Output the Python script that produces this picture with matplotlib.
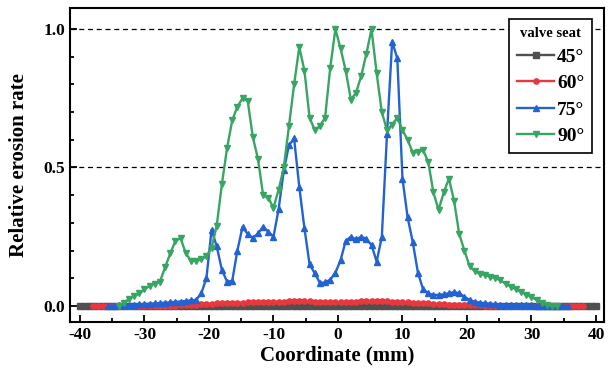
import matplotlib
matplotlib.use("Agg")
import matplotlib.pyplot as plt
import numpy as np

plt.rcParams['font.family'] = ['Liberation Serif', 'DejaVu Serif']
plt.rcParams['font.weight'] = 'bold'
plt.rcParams['axes.unicode_minus'] = False

# relative erosion rate along the seat for each valve seat angle
labels = ['45°', '60°', '75°', '90°']
colors = ['#505050', '#e8383d', '#2262d2', '#38a562']
markers = ['s', 'o', '^', 'v']
x_ranges = [(-40, 40), (-38, 38), (-35.6, 35.6), (-34, 34)]

rate_45 = [0.0] * 101

rate_60 = [0, 0, 0, 0, 0, 0, 0, 0, 0, 0, 0, 0, 0, 0, 0, 0,
           0.001, 0.002, 0.003, 0.004, 0.005, 0.006, 0.007, 0.008, 0.009, 0.010,
           0.011, 0.011, 0.012, 0.012, 0.013, 0.013, 0.014, 0.014, 0.015, 0.015,
           0.016, 0.016, 0.017, 0.017, 0.018, 0.018, 0.017, 0.016, 0.015, 0.014,
           0.013, 0.013, 0.014, 0.015, 0.015, 0.016, 0.017, 0.018, 0.019, 0.019,
           0.018, 0.017, 0.016, 0.015, 0.014, 0.013, 0.012, 0.011, 0.010, 0.009,
           0.008, 0.007, 0.006, 0.005, 0.005, 0.004, 0.003, 0.003, 0.002, 0.002,
           0.001, 0.001, 0, 0, 0, 0, 0, 0, 0, 0, 0, 0, 0, 0, 0, 0, 0, 0, 0, 0]

rate_75 = [0.0, 0.001, 0.002, 0.003, 0.004, 0.005, 0.006, 0.007, 0.008, 0.009,
           0.010, 0.012, 0.013, 0.015, 0.016, 0.018, 0.020, 0.022,
           0.045, 0.10, 0.275, 0.215, 0.13, 0.088, 0.09, 0.20, 0.285, 0.26,
           0.245, 0.262, 0.286, 0.268, 0.25, 0.35, 0.49, 0.58, 0.605, 0.43,
           0.28, 0.15, 0.118, 0.083, 0.085, 0.095, 0.12, 0.165, 0.235, 0.25,
           0.24, 0.25, 0.242, 0.22, 0.16, 0.25, 0.62, 0.955, 0.894, 0.46,
           0.32, 0.23, 0.12, 0.06, 0.045, 0.04, 0.04, 0.042, 0.046, 0.05,
           0.046, 0.033, 0.022, 0.015, 0.012, 0.010, 0.008, 0.006, 0.005, 0.004,
           0.003, 0.003, 0.002, 0.002, 0.002, 0.001, 0.001, 0.001, 0.0, 0.0, 0.0, 0.0]

rate_90 = [0.0, 0.01, 0.025, 0.035, 0.045, 0.06, 0.073, 0.08, 0.088, 0.14,
           0.19, 0.235, 0.245, 0.19, 0.163, 0.162, 0.168, 0.18, 0.21, 0.29,
           0.44, 0.57, 0.67, 0.72, 0.75, 0.74, 0.61, 0.53, 0.40, 0.39,
           0.355, 0.42, 0.50, 0.65, 0.80, 0.935, 0.85, 0.68, 0.635, 0.65,
           0.68, 0.86, 1.0, 0.93, 0.85, 0.745, 0.77, 0.83, 0.91, 1.0,
           0.84, 0.70, 0.635, 0.655, 0.68, 0.635, 0.60, 0.553, 0.557, 0.563,
           0.52, 0.41, 0.347, 0.41, 0.46, 0.38, 0.26, 0.20, 0.145, 0.125,
           0.116, 0.111, 0.106, 0.10, 0.093, 0.08, 0.07, 0.06, 0.05, 0.041,
           0.032, 0.022, 0.011, 0.003, 0.0, 0.0]

series = [rate_45, rate_60, rate_75, rate_90]

fig = plt.figure(figsize=(6.11, 3.92), dpi=100)
ax = fig.add_axes([70 / 611, 70 / 392, 534 / 611, 314 / 392])

for (lo, hi), y, c, m, lab in zip(x_ranges, series, colors, markers, labels):
    x = np.linspace(lo, hi, len(y))
    ax.plot(x, y, color=c, marker=m, markersize=3.8, linewidth=1.7, label=lab)

# reference levels
for level in (0.5, 1.0):
    ax.axhline(level, color='black', linestyle=(0, (4, 3)), linewidth=0.9, zorder=0)

ax.set_xlim(-41.55, 41.25)
ax.set_ylim(-0.058, 1.076)
ax.set_xticks(np.arange(-40, 41, 10))
ax.set_xticks(np.arange(-35, 40, 10), minor=True)
ax.set_yticks([0.0, 0.5, 1.0])
ax.set_yticks(np.arange(0.1, 1.05, 0.1), minor=True)
ax.tick_params(which='both', direction='in', width=1.3, labelsize=12.5)
ax.tick_params(which='major', length=5)
ax.tick_params(which='minor', length=3)
for s in ax.spines.values():
    s.set_linewidth(1.5)

ax.set_xlabel('Coordinate (mm)', fontsize=15, fontweight='bold', labelpad=2)
ax.set_ylabel('Relative erosion rate', fontsize=15, fontweight='bold', labelpad=10)

leg = ax.legend(title='valve seat', loc='upper right', bbox_to_anchor=(0.985, 0.978),
                fontsize=14, title_fontproperties={'weight': 'bold', 'size': 10.5},
                handlelength=1.9, handletextpad=0.15, labelspacing=0.45,
                borderpad=0.4, borderaxespad=0.2, fancybox=False, framealpha=1,
                edgecolor='black')
leg.get_frame().set_linewidth(1.2)

fig.savefig('out.png', dpi=100)
